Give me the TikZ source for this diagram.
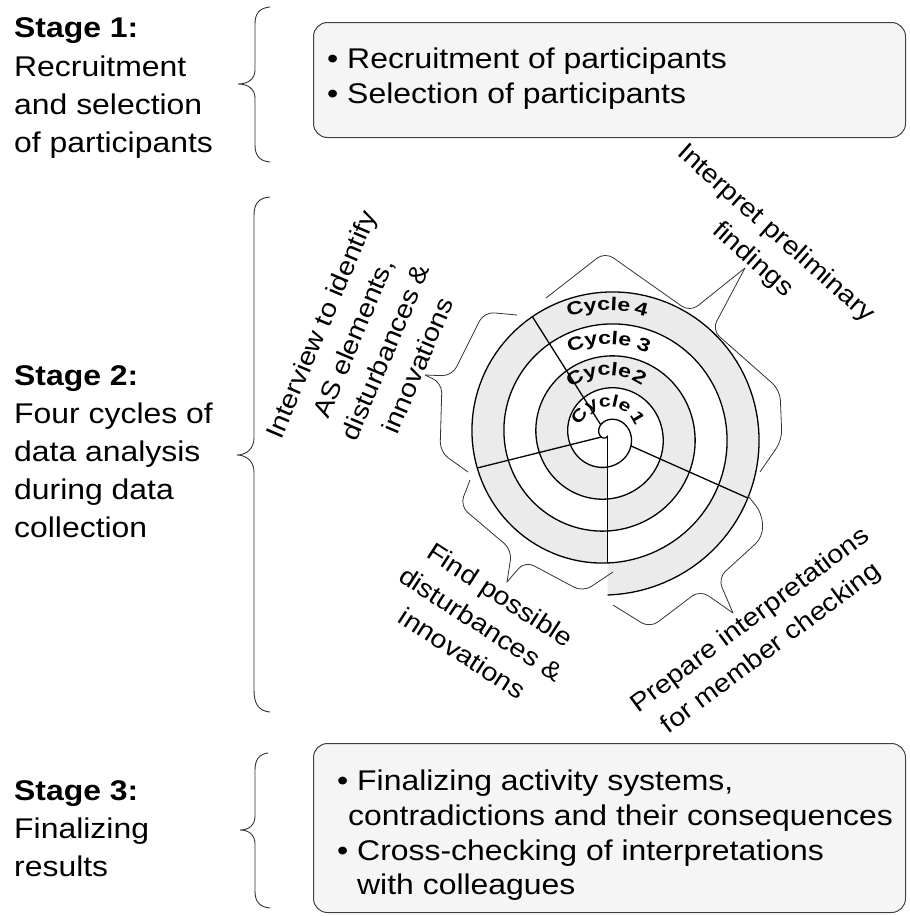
\documentclass[tikz,border=0pt]{standalone}
\usepackage{fontspec}
\setmainfont[FakeStretch=1.12]{Liberation Sans}
\newfontfamily\cycfont[FakeStretch=1.25]{Liberation Sans}
\usetikzlibrary{decorations.text}
\begin{document}
\begin{tikzpicture}[x=1pt,y=1pt,
  stagehead/.style={anchor=base west, inner sep=0, font=\fontsize{28.5}{38}\selectfont\bfseries},
  stagetext/.style={anchor=base west, inner sep=0, font=\fontsize{28.5}{38}\selectfont},
  boxtext/.style={anchor=base west, inner sep=0, font=\fontsize{28.5}{35}\selectfont},
  roundbox/.style={draw=black!75, line width=1pt, fill=black!4, rounded corners=14pt, anchor=north west, inner sep=0},
  spiralline/.style={line width=1.3pt},
  radial/.style={line width=1.3pt},
  bandfill/.style={fill=black!8},
  sbrace/.style={draw=black!80, line width=0.9pt},
  secbrace/.style={draw=black!80, line width=0.8pt, rounded corners=10pt},
  lbl/.style={font=\fontsize{25.5}{35}\selectfont, align=center, inner sep=0},
]
\useasboundingbox (0,0) rectangle (910,-916);

% ---------- boxes ----------
\node[roundbox, minimum width=592pt, minimum height=115pt] (box1) at (313,-22) {};
\node[roundbox, minimum width=592pt, minimum height=169pt] (box3) at (313,-743) {};

\node[boxtext] (b1a) at (327,-68) {• Recruitment of participants};
\node[boxtext] (b1b) at (327,-103) {• Selection of participants};

\node[boxtext] (b3a) at (337,-790) {• Finalizing activity systems,};
\node[boxtext] (b3b) at (348,-825) {contradictions and their consequences};
\node[boxtext] (b3c) at (337,-860) {• Cross-checking of interpretations};
\node[boxtext] (b3d) at (357,-894) {with colleagues};

% ---------- stage texts ----------
\node[stagehead] (s1h) at (14,-37) {Stage 1:};
\node[stagetext] (s1a) at (14,-76) {Recruitment};
\node[stagetext] (s1b) at (14,-114) {and selection};
\node[stagetext] (s1c) at (14,-152) {of participants};

\node[stagehead] (s2h) at (14,-385) {Stage 2:};
\node[stagetext] (s2a) at (14,-423) {Four cycles of};
\node[stagetext] (s2b) at (14,-461) {data analysis};
\node[stagetext] (s2c) at (14,-499) {during data};
\node[stagetext] (s2d) at (14,-537) {collection};

\node[stagehead] (s3h) at (14,-800) {Stage 3:};
\node[stagetext] (s3a) at (14,-838) {Finalizing};
\node[stagetext] (s3b) at (14,-876) {results};

% ---------- stage braces ----------
\draw[sbrace] (270,-7) .. controls (259,-8) and (255,-14) .. (255,-24) -- (255,-70)
  .. controls (255,-79) and (248,-84) .. (238,-84) .. controls (248,-84) and (255,-89) .. (255,-98)
  -- (255,-145) .. controls (255,-155) and (259,-161) .. (270,-162);
\draw[sbrace] (270,-197) .. controls (258,-198) and (254,-204) .. (254,-216) -- (254,-438)
  .. controls (254,-448) and (247,-455) .. (237,-455) .. controls (247,-455) and (254,-462) .. (254,-472)
  -- (254,-690) .. controls (254,-703) and (258,-711) .. (270,-712);
\draw[sbrace] (268,-753) .. controls (259,-754) and (255,-760) .. (255,-770) -- (255,-816)
  .. controls (255,-825) and (249,-830) .. (240,-830) .. controls (249,-830) and (255,-835) .. (255,-844)
  -- (255,-891) .. controls (255,-901) and (259,-907) .. (270,-908);

% ---------- spiral bands ----------
\fill[bandfill] plot[domain=0:360, samples=120, variable=\t]
   ({607.5-(31.5+\t/11.25)*sin(\t)},{-435.5-(31.5+\t/11.25)*cos(\t)})
   -- plot[domain=720:360, samples=120, variable=\t]
   ({607.5-(31.5+\t/11.25)*sin(\t)},{-435.5-(31.5+\t/11.25)*cos(\t)}) -- cycle;
\fill[bandfill] plot[domain=720:1080, samples=120, variable=\t]
   ({607.5-(31.5+\t/11.25)*sin(\t)},{-435.5-(31.5+\t/11.25)*cos(\t)})
   -- plot[domain=1440:1080, samples=120, variable=\t]
   ({607.5-(31.5+\t/11.25)*sin(\t)},{-435.5-(31.5+\t/11.25)*cos(\t)}) -- cycle;

% spiral curve
\draw[spiralline] plot[domain=-354:1440, samples=600, variable=\t]
   ({607.5-(31.5+\t/11.25)*sin(\t)},{-435.5-(31.5+\t/11.25)*cos(\t)});

% radial lines
\coordinate (hub) at (607.5,-435.5);
\coordinate (dnE) at (607.5,-563);
\coordinate (lfS) at (601.4,-437.0);
\coordinate (lfE) at (477.2,-468.0);
\coordinate (ulS) at (600.75,-424.8);
\coordinate (ulE) at (532.35,-316.6);
\coordinate (rdS) at (630.9,-445.9);
\coordinate (rdE) at (747.8,-498.0);
\draw[radial] (hub) -- (dnE);
\draw[radial] (lfS) -- (lfE);
\draw[radial] (ulS) -- (ulE);
\draw[radial] (rdS) -- (rdE);

% cycle labels
\foreach \k/\R/\fs/\cw/\cd in {1/29/17/104/30, 2/60/18.5/98/61, 3/91/18.5/95/68, 4/125/18.5/94/75}{
  \path[decorate, decoration={text along path, text align=center,
     text={|\cycfont\bfseries\fontsize{\fs}{\fs}\selectfont|Cycle}}]
     (hub) ++(\cw+85:\R) arc[start angle=\cw+85, end angle=\cw-85, radius=\R];
  \path[decorate, decoration={text along path, text align=center,
     text={|\cycfont\bfseries\fontsize{\fs}{\fs}\selectfont|\k}}]
     (hub) ++(\cd+25:\R) arc[start angle=\cd+25, end angle=\cd-25, radius=\R];
}

% ---------- sector braces ----------
\coordinate (tA) at (425,-375);
\draw[secbrace] (517,-315) -- (484,-312) -- (452,-376) -- (tA);
\draw[secbrace] (tA) -- (442,-383) -- (440,-452) -- (468,-472);
\coordinate (tB) at (507,-582);
\draw[secbrace] (470,-480) -- (460,-506) -- (512,-550) -- (tB);
\draw[secbrace] (tB) -- (525,-561) -- (583,-592) -- (613,-572);
\coordinate (tC) at (733,-613);
\draw[secbrace] (613,-605) -- (650,-628) -- (700,-590) -- (tC);
\draw[secbrace] (tC) -- (718,-578) -- (763,-537) -- (762,-513) -- (748,-496);
\coordinate (tD) at (745,-268);
\draw[secbrace] (546,-298) -- (605,-252) -- (690,-312) -- (tD);
\draw[secbrace] (tD) -- (712,-330) -- (780,-390) -- (782,-440) -- (760,-472);

% ---------- sector labels ----------
\node[lbl, rotate=67] (lA) at (369,-345) {Interview to identify\\AS elements,\\disturbances \&\\innovations};
\node[lbl, rotate=-41.5] (lD) at (764,-247) {Interpret preliminary\\findings};
\node[lbl, rotate=-33] (lB) at (481.5,-624) {Find possible\\disturbances \&\\innovations};
\node[lbl, rotate=36.8] (lC) at (761,-635) {Prepare interpretations\\for member checking};
\end{tikzpicture}
\end{document}
